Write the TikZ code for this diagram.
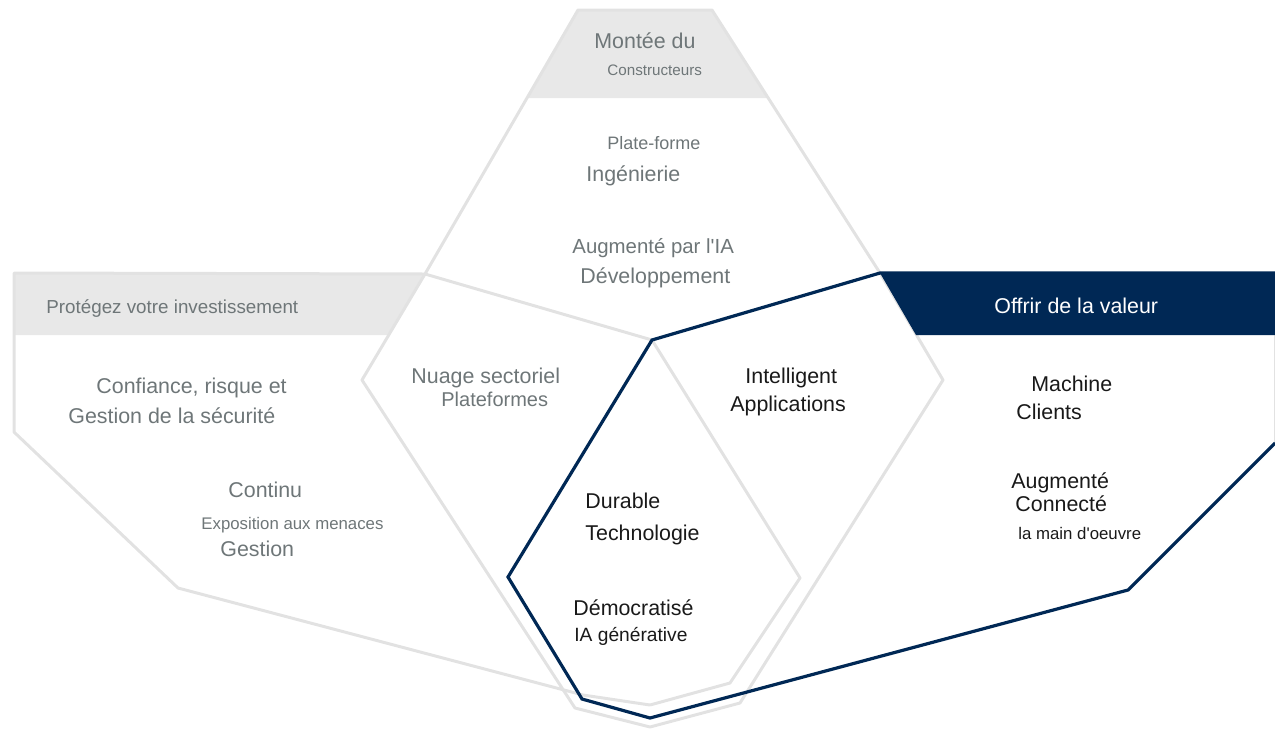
\documentclass[tikz,border=0pt]{standalone}
\usepackage{fontspec}
\setmainfont{Liberation Sans}[Ligatures=TeXOff]
\usepackage{tikz}
\definecolor{navy}{RGB}{0,40,85}
\definecolor{pale}{RGB}{226,226,226}
\definecolor{band}{RGB}{232,232,232}
\definecolor{greytext}{RGB}{110,118,120}

\begin{document}
\begin{tikzpicture}[x=0.5pt,y=-0.5pt,
    hexline/.style={draw=pale,line width=1.5pt,line join=round},
    navyline/.style={draw=navy,line width=1.6pt,line join=miter},
    label/.style={anchor=base west,inner sep=0pt,text=greytext},
    dark/.style={anchor=base west,inner sep=0pt,text=black!90},
    big/.style={font=\fontsize{10.7}{12}\selectfont},
    mid/.style={font=\fontsize{9.6}{11}\selectfont},
    small/.style={font=\fontsize{8.4}{10}\selectfont}]
    \useasboundingbox (0,0) rectangle (1275,729);
    % corners of the shapes
    \coordinate (topL) at (578,10);
    \coordinate (topR) at (712,10);
    \coordinate (bandTL) at (527,98);
    \coordinate (bandTR) at (768,98);
    \coordinate (valTL) at (880,273);
    \coordinate (centre) at (652,340);
    \coordinate (cloudT) at (425,274);
    \coordinate (cloudL) at (362,380);
    \coordinate (protTL) at (14,273);
    \coordinate (protBR) at (389,335);
    \coordinate (protBL) at (14,335);
    \coordinate (protL) at (14,432);
    \coordinate (protB) at (178,588);
    \coordinate (protE) at (583,695);
    \coordinate (outBL) at (575,708);
    \coordinate (outB) at (650,727);
    \coordinate (outBR) at (740,703);
    \coordinate (appR) at (943,380);
    \coordinate (durR) at (800,578);
    \coordinate (durBR) at (730,683);
    \coordinate (durB) at (650,705);
    \coordinate (navyL) at (508,577);
    \coordinate (navyBL) at (582,699);
    \coordinate (navyB) at (650,718);
    \coordinate (navyBR) at (1128,590);
    \coordinate (navyR) at (1275,443);
    \coordinate (valTR) at (1275,273);
    \coordinate (valBR) at (1275,335);
    \coordinate (valBL) at (916,335);
    % grey bands
    \fill[band] (topL) -- (topR) -- (bandTR) -- (bandTL) -- cycle;
    \fill[band] (protTL) -- (cloudT) -- (protBR) -- (protBL) -- cycle;
    % grey outlines
    \draw[hexline] (cloudT) -- (topL) -- (topR) -- (valTL);
    \draw[hexline] (centre) -- (cloudT) -- (protTL) -- (protL) -- (protB) -- (protE) -- (durB);
    \draw[hexline] (cloudT) -- (cloudL) -- (outBL) -- (outB) -- (outBR) -- (appR) -- (valTL);
    \draw[hexline] (centre) -- (durR) -- (durBR) -- (durB);
    \draw[hexline] (valBR) -- (navyR);
    % navy part
    \fill[navy] (valTL) -- (valTR) -- (valBR) -- (valBL) -- cycle;
    \draw[navyline] (navyR) -- (navyBR) -- (navyB) -- (navyBL) -- (navyL) -- (centre) -- (valTL) -- (valTR);
    % texts
    \node[label,big] (rise) at (594,48) {Montée du};
    \node[label,font=\fontsize{7.6}{9}\selectfont] (builders) at (607,75) {Constructeurs};
    \node[label,font=\fontsize{9}{11}\selectfont] (platform) at (607,149) {Plate-forme};
    \node[label,big] (engineering) at (586,181) {Ingénierie};
    \node[label,font=\fontsize{10.2}{12}\selectfont] (augmented) at (572,253) {Augmenté par l'IA};
    \node[label,big] (development) at (580,283) {Développement};
    \node[label,font=\fontsize{9.4}{11}\selectfont] (protect) at (46,313) {Protégez votre investissement};
    \node[anchor=base west,inner sep=0pt,text=white,big] (value) at (994,313) {Offrir de la valeur};
    \node[label,big] (trust) at (96,393) {Confiance, risque et};
    \node[label,big] (security) at (68,423) {Gestion de la sécurité};
    \node[label,big] (continuous) at (228,497) {Continu};
    \node[label,small] (exposure) at (201,529) {Exposition aux menaces};
    \node[label,big] (management) at (220,556) {Gestion};
    \node[label,big] (cloud) at (411,383) {Nuage sectoriel};
    \node[label,font=\fontsize{10}{12}\selectfont] (platforms) at (441,406) {Plateformes};
    \node[dark,big] (intelligent) at (745,383) {Intelligent};
    \node[dark,big] (applications) at (730,411) {Applications};
    \node[dark,big] (machine) at (1031,391) {Machine};
    \node[dark,big] (customers) at (1016,419) {Clients};
    \node[dark,big] (sustainable) at (585,508) {Durable};
    \node[dark,big] (technology) at (585,540) {Technologie};
    \node[dark,big] (augm) at (1011,488) {Augmenté};
    \node[dark,big] (connected) at (1015,511) {Connecté};
    \node[dark,small] (workforce) at (1018,539) {la main d'oeuvre};
    \node[dark,big] (democratized) at (573,615) {Démocratisé};
    \node[dark,mid] (genai) at (574,641) {IA générative};
\end{tikzpicture}
\end{document}
